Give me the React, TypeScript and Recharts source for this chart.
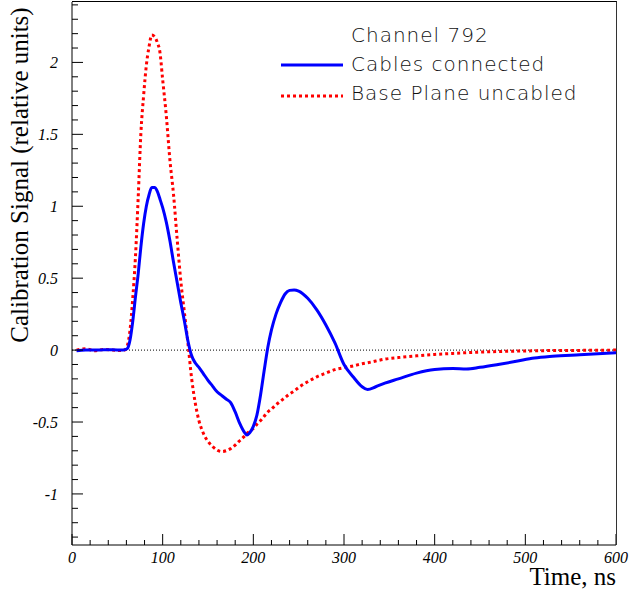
import { LineChart, Line, XAxis, YAxis, ReferenceLine } from "recharts";

// time, ns
const TIME = [
  5, 15, 25, 35, 45, 55, 58, 61, 64, 67, 70, 73, 76, 79, 82, 85, 88, 91, 94, 97,
  100, 104, 108, 112, 116, 120, 124, 128, 132, 136, 140, 145, 150, 155, 160, 165,
  170, 175, 180, 185, 190, 193, 196, 200, 204, 208, 212, 216, 220, 225, 230, 235,
  240, 245, 250, 260, 270, 280, 290, 300, 310, 320, 326, 335, 345, 360, 380, 400,
  420, 435, 450, 470, 490, 510, 530, 560, 600,
];

// Cables connected
const CABLES = [
  -0.005, 0.0, 0.0, 0.002, 0.003, 0.0, 0.002, 0.01, 0.07, 0.2, 0.37, 0.53, 0.72, 0.88, 1.0, 1.08, 1.13, 1.13, 1.105, 1.05,
  0.99, 0.89, 0.76, 0.61, 0.47, 0.33, 0.2, 0.06, -0.04, -0.09, -0.12, -0.165, -0.21, -0.25, -0.29, -0.315,
  -0.34, -0.365, -0.43, -0.51, -0.57, -0.59, -0.575, -0.53, -0.45, -0.31, -0.14, 0.02, 0.14, 0.25, 0.33, 0.39,
  0.415, 0.418, 0.41, 0.36, 0.28, 0.175, 0.05, -0.1, -0.185, -0.255, -0.274, -0.255, -0.23, -0.2, -0.16, -0.135,
  -0.128, -0.132, -0.12, -0.1, -0.078, -0.055, -0.043, -0.032, -0.018,
];

// Base Plane uncabled
const UNCABLED = [
  0.0, 0.01, -0.005, 0.005, 0.0, -0.003, 0.0, 0.03, 0.14, 0.36, 0.65, 1.06, 1.51, 1.77, 1.98, 2.11, 2.19, 2.18, 2.14, 2.07,
  1.88, 1.63, 1.32, 1.08, 0.77, 0.48, 0.26, 0.04, -0.2, -0.37, -0.49, -0.58, -0.635, -0.67, -0.695, -0.705,
  -0.7, -0.685, -0.66, -0.63, -0.6, -0.58, -0.565, -0.545, -0.515, -0.49, -0.46, -0.43, -0.41, -0.38, -0.355, -0.33,
  -0.305, -0.285, -0.26, -0.22, -0.186, -0.16, -0.136, -0.122, -0.11, -0.095, -0.088, -0.076, -0.063, -0.052, -0.04, -0.03,
  -0.023, -0.018, -0.014, -0.01, -0.007, -0.005, -0.003, -0.002, 0.0,
];

const X_TICKS = [
  0, 20, 40, 60, 80, 100, 120, 140, 160, 180, 200, 220, 240, 260, 280, 300,
  320, 340, 360, 380, 400, 420, 440, 460, 480, 500, 520, 540, 560, 580, 600,
];
const Y_TICKS = [
  -1.3, -1.2, -1.1, -1, -0.9, -0.8, -0.7, -0.6, -0.5, -0.4, -0.3, -0.2, -0.1, 0,
  0.1, 0.2, 0.3, 0.4, 0.5, 0.6, 0.7, 0.8, 0.9, 1, 1.1, 1.2, 1.3, 1.4, 1.5, 1.6,
  1.7, 1.8, 1.9, 2, 2.1, 2.2, 2.3, 2.4,
];
const X_DOMAIN = [0, 600];
const Y_DOMAIN = [-1.355, 2.42];

const data = TIME.map((t, i) => ({ t, cables: CABLES[i], uncabled: UNCABLED[i] }));

const SERIF = "'Liberation Serif', 'Times New Roman', serif";
const SANS = "'DejaVu Sans', sans-serif";

function XTick(props: any) {
  const { x, y, payload } = props;
  const v = payload.value;
  const major = v % 100 === 0;
  return (
    <g>
      <line x1={x} x2={x} y1={y} y2={y - (major ? 11 : 5)} stroke="#000" />
      {major && (
        <text x={x} y={y + 18} textAnchor="middle" fontFamily={SERIF}
          fontStyle="italic" fontSize={16} fill="#000">{v}</text>
      )}
    </g>
  );
}

function YTick(props: any) {
  const { x, y, payload } = props;
  const v = payload.value;
  const major = Math.abs(v * 2 - Math.round(v * 2)) < 1e-6;
  return (
    <g>
      <line x1={x} x2={x + (major ? 11 : 6)} y1={y} y2={y} stroke="#000" />
      {major && (
        <text x={x - 14} y={y} dy="0.35em" textAnchor="end" fontFamily={SERIF}
          fontStyle="italic" fontSize={16} fill="#000">{String(v)}</text>
      )}
    </g>
  );
}

export default function App() {
  return (
    <div style={{ position: "absolute", left: 0, top: 0, width: 632, height: 594, background: "#fff" }}>
      <LineChart width={632} height={594} data={data}
        margin={{ top: 2, right: 16, bottom: 0, left: 0 }}>
        <XAxis dataKey="t" type="number" domain={X_DOMAIN} ticks={X_TICKS} interval={0}
          height={49} tickSize={0} tickMargin={0} tickLine={false}
          axisLine={{ stroke: "#000" }} tick={<XTick />} allowDataOverflow />
        <YAxis type="number" domain={Y_DOMAIN} ticks={Y_TICKS} interval={0} width={72}
          tickSize={0} tickMargin={0} tickLine={false} axisLine={{ stroke: "#000" }}
          tick={<YTick />} allowDataOverflow />
        <ReferenceLine y={0} stroke="#000" strokeWidth={1} strokeDasharray="1 2" />
        <Line dataKey="uncabled" type="monotone" stroke="#ff0000" strokeWidth={3}
          strokeDasharray="3 3" dot={false} isAnimationActive={false} />
        <Line dataKey="cables" type="monotone" stroke="#0000ff" strokeWidth={3}
          dot={false} isAnimationActive={false} />
      </LineChart>

      {/* top and right edges of the frame */}
      <div style={{
        position: "absolute", left: 72, top: 1, width: 545, height: 544, boxSizing: "border-box",
        borderTop: "1px solid #000", borderRight: "1px solid #333", pointerEvents: "none",
      }} />

      <div style={{
        position: "absolute", left: 20, top: 175, transform: "translate(-50%, -50%) rotate(-90deg)",
        whiteSpace: "nowrap", fontFamily: SERIF, fontSize: 25, color: "#000",
      }}>Calibration Signal (relative units)</div>
      <div style={{
        position: "absolute", right: 16, top: 563, whiteSpace: "nowrap",
        fontFamily: SERIF, fontSize: 25, color: "#000", lineHeight: "28px",
      }}>Time, ns</div>

      <div style={{ position: "absolute", left: 280, top: 21, fontFamily: SANS, fontSize: 20,
        fontWeight: 300, letterSpacing: 1, color: "#111", lineHeight: "29px" }}>
        <div style={{ paddingLeft: 71 }}>Channel 792</div>
        <div style={{ display: "flex", alignItems: "center" }}>
          <svg width={71} height={10}><line x1={1} x2={63} y1={5} y2={5} stroke="#0000ff" strokeWidth={3} /></svg>
          <span>Cables connected</span>
        </div>
        <div style={{ display: "flex", alignItems: "center" }}>
          <svg width={71} height={14}><line x1={1} x2={63} y1={9} y2={9} stroke="#ff0000" strokeWidth={3} strokeDasharray="3 3" /></svg>
          <span>Base Plane uncabled</span>
        </div>
      </div>
    </div>
  );
}
